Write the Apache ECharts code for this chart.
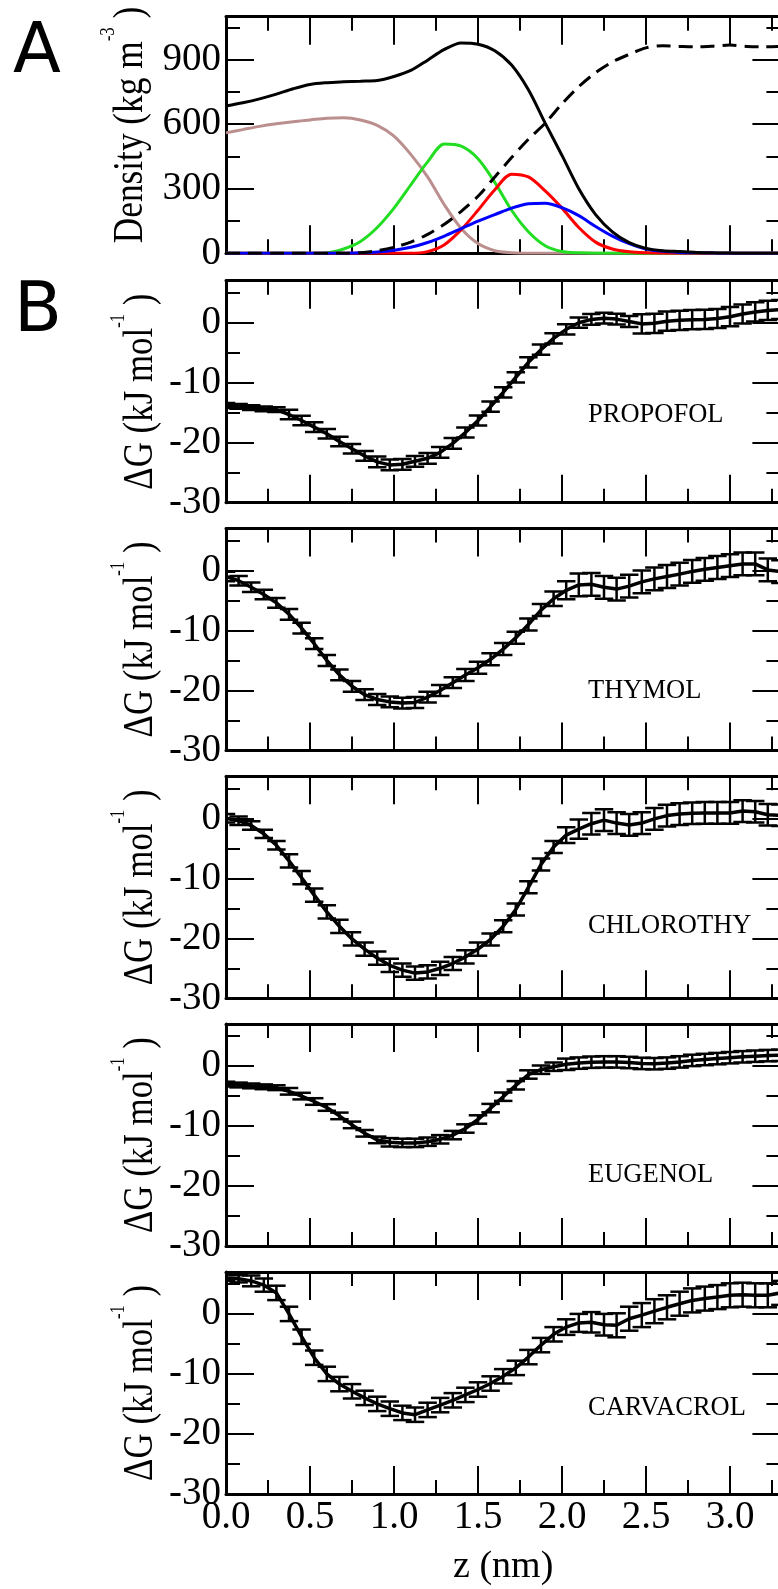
<!DOCTYPE html>
<html>
<head>
<meta charset="utf-8">
<script src="https://cdn.jsdelivr.net/npm/echarts@6.0.0/dist/echarts.min.js"></script>
<style>
html, body { margin: 0; padding: 0; background: #fff; }
#main { width: 778px; height: 1589px; }
</style>
</head>
<body>
<div id="main"></div>
<script>
//	panel A: z positions (nm) and density profiles (kg m^-3)
var zDens = [0.0, 0.1, 0.2, 0.3, 0.4, 0.5, 0.6, 0.7, 0.8, 0.9, 1.0, 1.1, 1.2, 1.3, 1.4, 1.5, 1.6,
	1.7, 1.8, 1.9, 2.0, 2.1, 2.2, 2.3, 2.4, 2.5, 2.6, 2.7, 2.8, 2.9, 3.0, 3.1, 3.2, 3.3];
var rhoBlack  = [685, 700, 718, 740, 765, 785, 793, 797, 800, 803, 822, 850, 898, 948, 978, 972, 942,
	875, 760, 605, 455, 300, 180, 100, 50, 23, 12, 8, 4, 2, 1, 0, 0, 0];
var rhoDashed = [0, 0, 0, 0, 0, 0, 0, 0, 3, 12, 28, 52, 88, 135, 195, 265, 355,
	445, 530, 605, 695, 775, 840, 890, 925, 955, 965, 962, 960, 963, 968, 962, 960, 962];
var rhoBrown  = [560, 575, 590, 602, 612, 620, 628, 630, 620, 595, 545, 460, 355, 225, 115, 45, 12,
	3, 0, 0, 0, 0, 0, 0, 0, 0, 0, 0, 0, 0, 0, 0, 0, 0];
var rhoGreen  = [0, 0, 0, 0, 0, 0, 2, 20, 55, 120, 210, 318, 425, 508, 498, 440, 330,
	200, 100, 35, 8, 2, 0, 0, 0, 0, 0, 0, 0, 0, 0, 0, 0, 0];
var rhoRed    = [0, 0, 0, 0, 0, 0, 0, 0, 0, 0, 0, 0, 8, 40, 110, 200, 295,
	368, 355, 290, 210, 120, 52, 20, 7, 2, 0, 0, 0, 0, 0, 0, 0, 0];
var rhoBlue   = [0, 0, 0, 0, 0, 0, 0, 0, 2, 6, 14, 28, 50, 80, 115, 150, 180,
	210, 230, 233, 212, 175, 125, 80, 45, 20, 9, 4, 2, 1, 0, 0, 0, 0];

//	panel B: z positions (nm), free energy (kJ mol^-1) and errors
var zPmf = [0.000, 0.075, 0.150, 0.225, 0.300, 0.375, 0.450, 0.525, 0.600, 0.675, 0.750, 0.825,
	0.900, 0.975, 1.050, 1.125, 1.200, 1.275, 1.350, 1.425, 1.500, 1.575, 1.650, 1.725, 1.800,
	1.875, 1.950, 2.025, 2.100, 2.175, 2.250, 2.325, 2.400, 2.475, 2.550, 2.625, 2.700, 2.775,
	2.850, 2.925, 3.000, 3.075, 3.150, 3.225, 3.300];
var molecules = ['PROPOFOL', 'THYMOL', 'CHLOROTHY', 'EUGENOL', 'CARVACROL'];

var dgPropofol = [-13.8, -13.95, -14.15, -14.35, -14.5, -15.3, -16.3, -17.4, -18.5, -19.8, -21.0,
	-22.2, -23.2, -23.7, -23.6, -23.1, -22.6, -21.6, -20.1, -18.3, -16.3, -14.0, -11.6, -9.1, -6.6,
	-4.5, -2.6, -1.1, 0.0, 0.55, 0.75, 0.6, 0.2, -0.2, -0.1, 0.25, 0.4, 0.5, 0.55, 0.7, 1.0, 1.45,
	1.8, 2.05, 2.2];
var errPropofol = [0.4, 0.4, 0.4, 0.4, 0.4, 0.8, 0.8, 0.8, 0.8, 0.8, 0.8, 0.8, 0.9, 0.9, 0.9, 0.9,
	0.9, 0.9, 0.9, 0.85, 0.85, 0.85, 0.85, 0.85, 0.85, 0.85, 0.85, 0.85, 0.85, 0.9, 0.9, 0.9, 0.9,
	1.6, 1.6, 1.6, 1.6, 1.6, 1.6, 1.6, 1.6, 1.6, 1.6, 1.6, 1.6];

var dgThymol = [-1.0, -1.7, -2.8, -4.0, -5.4, -7.3, -9.6, -12.2, -15.0, -17.4, -19.3, -20.7, -21.5,
	-21.9, -22.1, -22.0, -21.1, -20.0, -18.7, -17.4, -16.2, -14.8, -13.1, -11.2, -9.0, -6.6, -4.7,
	-3.3, -2.4, -2.3, -2.8, -3.1, -2.6, -1.9, -1.4, -1.0, -0.6, -0.15, 0.2, 0.5, 0.8, 1.1, 1.1,
	0.1, -0.2];
var errThymol = [0.8, 0.8, 0.8, 0.8, 0.8, 0.9, 0.9, 0.9, 0.9, 0.9, 0.9, 0.9, 0.9, 0.9, 0.9, 0.9,
	0.9, 0.9, 0.9, 1.0, 1.0, 1.0, 1.0, 1.0, 1.0, 1.0, 1.2, 1.5, 1.9, 1.9, 1.9, 1.9, 1.9, 1.9, 1.9,
	1.9, 1.9, 1.9, 1.9, 1.9, 1.9, 1.9, 1.9, 1.9, 1.9];

var dgChlorothy = [0.0, -0.4, -1.2, -2.6, -4.5, -7.1, -9.9, -12.8, -15.6, -18.0, -20.1, -21.8,
	-23.3, -24.5, -25.3, -25.8, -25.6, -25.0, -24.2, -23.1, -21.8, -20.2, -18.0, -15.2, -11.5, -7.7,
	-4.8, -2.8, -1.8, -0.9, -0.3, -0.8, -1.1, -0.8, -0.1, 0.45, 0.7, 0.85, 0.9, 0.9, 0.9, 1.2, 1.1,
	0.6, 0.5];
var errChlorothy = [0.7, 0.7, 0.7, 0.7, 0.7, 1.1, 1.1, 1.1, 1.1, 1.1, 1.1, 1.1, 1.1, 1.1, 1.1,
	1.1, 1.1, 1.1, 1.1, 1.1, 1.1, 1.0, 1.0, 1.0, 1.0, 1.0, 1.0, 1.3, 1.6, 1.8, 1.8, 1.8, 1.8, 1.8,
	1.8, 1.8, 1.8, 1.8, 1.8, 1.8, 1.8, 1.8, 1.8, 1.8, 1.8];

var dgEugenol = [-3.0, -3.15, -3.3, -3.45, -3.6, -4.2, -5.0, -5.9, -6.9, -8.3, -9.8, -11.2, -12.3,
	-12.7, -12.8, -12.8, -12.6, -12.2, -11.5, -10.4, -8.9, -7.0, -5.1, -3.2, -1.4, -0.6, -0.1, 0.3,
	0.5, 0.65, 0.7, 0.7, 0.6, 0.45, 0.4, 0.5, 0.7, 0.95, 1.1, 1.25, 1.4, 1.55, 1.65, 1.75, 1.8];
var errEugenol = [0.4, 0.4, 0.4, 0.4, 0.4, 0.55, 0.55, 0.55, 0.55, 0.55, 0.55, 0.55, 0.55, 0.7,
	0.7, 0.7, 0.7, 0.7, 0.7, 0.7, 0.7, 0.7, 0.7, 0.7, 0.7, 0.7, 0.7, 0.95, 0.95, 0.95, 0.95, 0.95,
	0.95, 0.95, 0.95, 0.95, 0.95, 0.95, 0.95, 0.95, 0.95, 0.95, 0.95, 0.95, 0.95];

var dgCarvacrol = [6.0, 5.85, 5.5, 4.8, 3.5, 0.0, -3.8, -7.3, -10.0, -11.7, -12.9, -14.0, -15.0,
	-15.8, -16.5, -16.8, -16.0, -15.2, -14.4, -13.5, -12.6, -11.6, -10.4, -9.0, -7.2, -5.2, -3.4,
	-2.2, -1.5, -1.4, -1.8, -1.9, -0.8, -0.2, 0.45, 1.1, 1.7, 2.25, 2.55, 2.8, 3.1, 3.2, 3.1, 3.1,
	3.5];
var errCarvacrol = [0.5, 0.6, 0.9, 1.1, 1.2, 1.2, 1.2, 1.2, 1.2, 1.2, 1.2, 1.2, 1.2, 1.2, 1.2, 1.2,
	1.2, 1.2, 1.2, 1.2, 1.2, 1.2, 1.2, 1.2, 1.2, 1.2, 1.2, 1.3, 1.5, 1.7, 1.8, 2.0, 2.0, 2.0, 2.0,
	2.0, 2.0, 2.0, 2.0, 2.0, 2.0, 2.0, 2.0, 2.0, 2.0];

var dgList = [dgPropofol, dgThymol, dgChlorothy, dgEugenol, dgCarvacrol];
var errList = [errPropofol, errThymol, errChlorothy, errEugenol, errCarvacrol];


//	layout
var SERIF = '"Liberation Serif", "Times New Roman", serif';
var gridLeft = 226, gridWidth = 554.4;
var tops = [16.7, 280.7, 528.5, 776.3, 1024.1, 1271.9];
var heights = [236.6, 222, 222, 222, 222, 222];
var labelY = [415, 691, 926, 1175, 1408];

var myChart = echarts.init(document.getElementById('main'), null, {renderer: 'canvas'});

var grids = [], xAxes = [], yAxes = [], series = [];

function frameLine() {
	return {show: true, onZero: false, lineStyle: {color: '#000', width: 3}};
}

for(var i=0; i<6; i++) {
	grids.push({left: gridLeft, top: tops[i], width: gridWidth, height: heights[i],
		containLabel: false, outerBoundsMode: 'none'});

	var last = (i == 5);
	['bottom', 'top'].forEach(function(p) {
		xAxes.push({
			gridIndex: i, type: 'value', position: p,
			min: 0, max: 3.3, interval: 0.5,
			axisLine: frameLine(),
			axisTick: {show: true, inside: true, length: 28, lineStyle: {color: '#000', width: 2}},
			minorTick: {show: true, splitNumber: 2, length: 14, lineStyle: {color: '#000', width: 2}},
			splitLine: {show: false},
			axisLabel: {
				show: last && p == 'bottom', showMaxLabel: false, margin: 4,
				color: '#000', fontFamily: SERIF, fontSize: 39,
				formatter: function(v) { return v.toFixed(1); }
			}
		});
	});

	var isA = (i == 0);
	['left', 'right'].forEach(function(p) {
		yAxes.push({
			gridIndex: i, type: 'value', position: p,
			min: isA ? 0 : -30, max: isA ? 1100 : 7, interval: isA ? 300 : 10,
			axisLine: frameLine(),
			axisTick: {show: true, inside: true, length: 28, lineStyle: {color: '#000', width: 2}},
			minorTick: {show: true, splitNumber: 2, length: 14, lineStyle: {color: '#000', width: 2}},
			splitLine: {show: false},
			axisLabel: {
				show: p == 'left', showMaxLabel: false, margin: 5,
				color: '#000', fontFamily: SERIF, fontSize: 39
			}
		});
	});
}

//	panel A lines
function densLine(vals, color, dashed) {
	return {
		type: 'line', xAxisIndex: 0, yAxisIndex: 0,
		data: zDens.map(function(v, k) { return [v, vals[k]]; }),
		symbol: 'none', smooth: 0.3, silent: true,
		lineStyle: {color: color, width: 3, type: dashed ? [14, 8] : 'solid'}
	};
}
series.push(densLine(rhoBrown, '#bc8f8f'));
series.push(densLine(rhoGreen, '#22dd22'));
series.push(densLine(rhoRed, '#ff0000'));
series.push(densLine(rhoBlue, '#0000ff'));
series.push(densLine(rhoDashed, '#000', true));
series.push(densLine(rhoBlack, '#000'));

//	panel B lines + error bars
function errRender(params, api) {
	var x = api.value(0), y = api.value(1), e = api.value(2);
	var hi = api.coord([x, y + e]);
	var lo = api.coord([x, y - e]);
	var w = api.size([0.11, 0])[0] / 2;
	var st = {stroke: '#000', lineWidth: 2.5};
	return {
		type: 'group',
		children: [
			{type: 'line', shape: {x1: hi[0], y1: hi[1], x2: lo[0], y2: lo[1]}, style: st},
			{type: 'line', shape: {x1: hi[0] - w, y1: hi[1], x2: hi[0] + w, y2: hi[1]}, style: st},
			{type: 'line', shape: {x1: lo[0] - w, y1: lo[1], x2: lo[0] + w, y2: lo[1]}, style: st}
		]
	};
}

for(var k=0; k<5; k++) {
	var gi = k + 1;
	var dg = dgList[k], er = errList[k];
	series.push({
		type: 'custom', xAxisIndex: gi * 2, yAxisIndex: gi * 2,
		renderItem: errRender, clip: true, silent: true,
		encode: {x: 0, y: 1},
		data: zPmf.map(function(v, n) { return [v, dg[n], er[n]]; })
	});
	series.push({
		type: 'line', xAxisIndex: gi * 2, yAxisIndex: gi * 2,
		data: zPmf.map(function(v, n) { return [v, dg[n]]; }),
		symbol: 'none', silent: true,
		lineStyle: {color: '#000', width: 3.5}
	});
}

//	texts
var supStyle = {sup: {fontFamily: SERIF, fontSize: 20, lineHeight: 20, verticalAlign: 'top'}};
var graphics = [
	{type: 'text', x: 37, y: 54, style: {text: 'A', font: '70px "DejaVu Sans"', fill: '#000', align: 'center', verticalAlign: 'middle'}},
	{type: 'text', x: 38, y: 313, style: {text: 'B', font: '70px "DejaVu Sans"', fill: '#000', align: 'center', verticalAlign: 'middle'}},
	{type: 'text', x: 131, y: 125, rotation: Math.PI / 2, scaleX: 0.84,
		style: {text: 'Density (kg m{sup|-3} )', fontFamily: SERIF, fontSize: 42, lineHeight: 64,
			fill: '#000', align: 'center', verticalAlign: 'middle', rich: supStyle}},
	{type: 'text', x: gridLeft + 1.65 * 168, y: 1567,
		style: {text: 'z (nm)', fontFamily: SERIF, fontSize: 38, fill: '#000', align: 'center', verticalAlign: 'middle'}}
];
for(var k=0; k<5; k++) {
	graphics.push({type: 'text', x: 141, y: tops[k + 1] + heights[k + 1] / 2, rotation: Math.PI / 2, scaleX: 0.83,
		style: {text: '\u0394G (kJ mol{sup|-1} )', fontFamily: SERIF, fontSize: 42, lineHeight: 64,
			fill: '#000', align: 'center', verticalAlign: 'middle', rich: supStyle}});
	graphics.push({type: 'text', x: 588, y: labelY[k],
		style: {text: molecules[k], fontFamily: SERIF, fontSize: 26.5, fill: '#000', align: 'left', verticalAlign: 'middle'}});
}

var option = {
	animation: false,
	backgroundColor: '#fff',
	grid: grids,
	xAxis: xAxes,
	yAxis: yAxes,
	series: series,
	graphic: graphics
};
myChart.setOption(option);
</script>
</body>
</html>
